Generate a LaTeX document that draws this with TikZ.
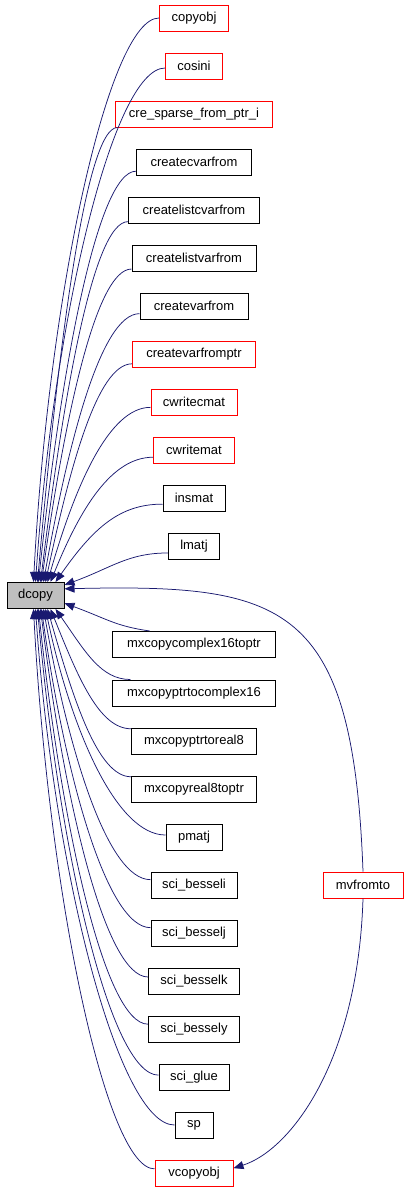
\documentclass[tikz,border=0pt]{standalone}
\usepackage{fontspec}
\setmainfont{Liberation Sans}
\usetikzlibrary{arrows.meta}
\usetikzlibrary{calc}
\definecolor{edgeblue}{HTML}{191970}
\definecolor{boxred}{HTML}{FF0000}
\definecolor{boxgray}{HTML}{BFBFBF}
\tikzset{
    fn/.style={draw, line width=1pt, minimum height=26pt, inner sep=0pt, font=\fontsize{13}{15}\selectfont},
    call/.style={edgeblue, line width=0.75pt, -{Triangle[length=10pt,width=8pt]}}
}

\begin{document}
\begin{tikzpicture}[x=1pt,y=1pt]
\useasboundingbox (0,0) rectangle (407,-1189);
% the called function
\node[fn, fill=boxgray, minimum width=57pt] (dcopy) at (35.5,-595.5) {dcopy};
% callers, one column
\foreach \f/\t/\y/\w/\c in {copyobj/copyobj/18/69/boxred, cosini/cosini/66/57/boxred, sparse/cre\_sparse\_from\_ptr\_i/114/157/boxred, createcvarfrom/createcvarfrom/162/115/black, createlistcvarfrom/createlistcvarfrom/210/131/black, createlistvarfrom/createlistvarfrom/258/124/black, createvarfrom/createvarfrom/306/108/black, createvarfromptr/createvarfromptr/354/123/boxred, cwritecmat/cwritecmat/402/86/boxred, cwritemat/cwritemat/450/81/boxred, insmat/insmat/498/62/black, lmatj/lmatj/546/51/black, mxcopycomplex16toptr/mxcopycomplex16toptr/644.5/163/black, mxcopyptrtocomplex16/mxcopyptrtocomplex16/693/163/black, mxcopyptrtoreal8/mxcopyptrtoreal8/741/125/black, mxcopyreal8toptr/mxcopyreal8toptr/789/125/black, pmatj/pmatj/837/56/black, besseli/sci\_besseli/885/86/black, besselj/sci\_besselj/933/86/black, besselk/sci\_besselk/981/91/black, bessely/sci\_bessely/1029/91/black, glue/sci\_glue/1077/70/black, sp/sp/1125/38/black, vcopyobj/vcopyobj/1173/78/boxred}{
    \node[fn, draw=\c, minimum width=\w pt] (\f) at (194,-\y) {\t};
}
\node[fn, draw=boxred, minimum width=80pt] (mvfromto) at (363,-885) {mvfromto};

% into the top of dcopy
\foreach \f/\s/\e/\a in {copyobj/180/27/87, cosini/184/29/86, sparse/190/31/85, createcvarfrom/189/32/84, createlistcvarfrom/190/34/83, createlistvarfrom/190/35/82, createvarfrom/188/37/80, createvarfromptr/189/39/78, cwritecmat/187/41/74, cwritemat/190/44/68, insmat/191/49/55}{
    \draw[call] let \p1=(\f.\s), \p2=([xshift=\e pt]dcopy.north west) in (\p1) .. controls +({-0.4*(\x1-\x2)},0) and +(\a:{0.5*veclen(\x1-\x2,\y1-\y2)}) .. (\p2);
}
% into the bottom of dcopy
\foreach \f/\s/\e/\a in {mxcopyptrtocomplex16/168/49/-55, mxcopyptrtoreal8/169/44/-68, mxcopyreal8toptr/169/41/-74, pmatj/176/39/-78, besseli/173/37/-80, besselj/173/35/-82, besselk/175/34/-83, bessely/174/32/-84, glue/177/31/-85, sp/180/29/-86, vcopyobj/174/27/-87}{
    \draw[call] let \p1=(\f.\s), \p2=([xshift=\e pt]dcopy.south west) in (\p1) .. controls +({-0.4*(\x1-\x2)},0) and +(\a:{0.5*veclen(\x1-\x2,\y1-\y2)}) .. (\p2);
}
\draw[call] (lmatj.195) .. controls +(-40,0) and +(20:50) .. (dcopy.20);
\draw[call] (mxcopycomplex16toptr.163) .. controls +(-35,5) and +(-20:45) .. (dcopy.-15);
\draw[call] (mvfromto.north) .. controls +(-10,270) and +(220,5) .. (dcopy.13);
\draw[call] (mvfromto.south) .. controls +(-5,-163) and +(57,18) .. (vcopyobj.7);
\end{tikzpicture}
\end{document}
